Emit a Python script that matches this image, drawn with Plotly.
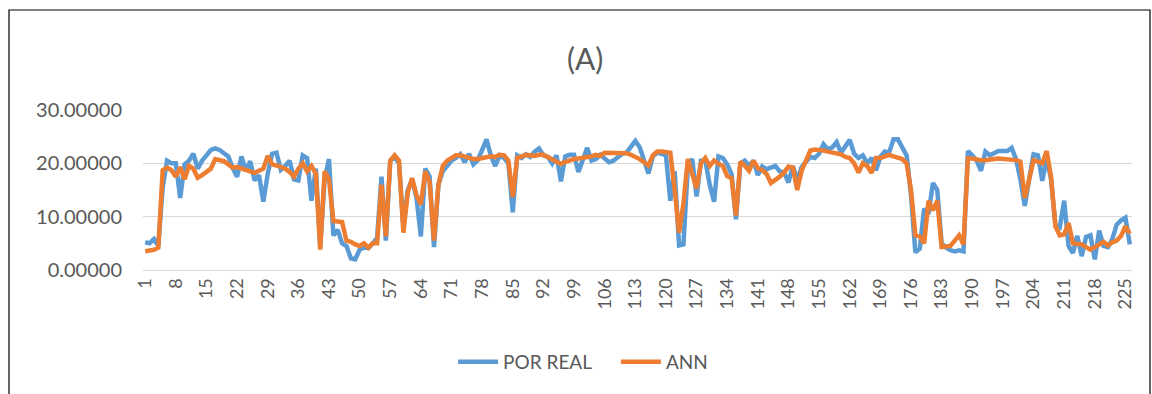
import plotly.graph_objects as go

# Observation index (category axis)
periods = list(range(1, 227))

# Measured values
por_real = [
    5.2, 5.0, 5.8, 4.5, 15.5, 20.5, 20.0, 20.0, 13.5, 19.8,
    20.5, 21.8, 19.0, 20.5, 21.5, 22.5, 22.8, 22.5, 21.9, 21.3,
    19.1, 17.5, 21.3, 18.6, 20.4, 16.8, 17.8, 12.8, 18.0, 21.8,
    22.0, 18.8, 19.5, 20.5, 17.0, 16.8, 21.5, 21.0, 13.0, 19.0,
    4.5, 17.0, 20.8, 6.5, 7.5, 5.0, 4.5, 2.2, 2.0, 3.8,
    4.2, 4.1, 5.0, 6.0, 17.5, 5.5, 20.5, 21.2, 20.0, 8.0,
    15.0, 17.0, 13.5, 6.3, 19.0, 17.5, 4.3, 16.0, 18.5, 19.5,
    20.5, 21.0, 21.7, 20.2, 21.8, 19.8, 20.6, 22.5, 24.5, 21.4,
    19.5, 21.5, 21.0, 20.0, 10.8, 21.5, 21.0, 21.7, 21.2, 22.2,
    22.8, 21.5, 21.2, 20.0, 21.5, 16.6, 21.3, 21.6, 21.6, 18.4,
    21.0, 22.9, 20.5, 20.8, 21.6, 21.0, 20.2, 20.5, 21.2, 21.8,
    22.0, 23.0, 24.2, 23.0, 20.3, 18.1, 21.3, 22.0, 21.8, 21.5,
    13.0, 18.5, 4.6, 4.8, 19.5, 20.8, 13.8, 20.5, 20.5, 16.0,
    12.8, 21.3, 21.0, 19.8, 18.0, 9.5, 20.0, 20.5, 19.6, 20.5,
    17.8, 19.4, 18.9, 19.2, 19.5, 18.5, 18.3, 16.4, 19.5, 16.8,
    19.3, 20.3, 21.2, 21.0, 21.8, 23.6, 22.6, 23.0, 24.0, 22.0,
    23.4, 24.4, 21.8, 21.0, 21.5, 20.0, 21.0, 18.7, 21.2, 22.2,
    22.0, 24.5, 24.5, 23.0, 21.5, 14.0, 3.3, 4.0, 11.5, 10.5,
    16.3, 15.0, 5.0, 4.2, 3.7, 3.5, 3.7, 3.5, 22.3, 21.5,
    20.5, 18.6, 22.2, 21.5, 22.0, 22.3, 22.3, 22.3, 22.9, 20.8,
    17.0, 12.0, 17.0, 21.7, 21.5, 16.7, 21.0, 17.0, 8.3, 8.0,
    13.0, 4.5, 3.2, 6.4, 2.6, 6.2, 6.5, 2.0, 7.4, 4.5,
    4.3, 5.8, 8.5, 9.3, 9.8, 4.8,
]

# Network predictions
ann = [
    3.5, 3.6, 3.8, 4.2, 18.7, 19.2, 18.7, 17.5, 19.3, 17.0,
    19.5, 19.0, 17.3, 17.8, 18.5, 19.0, 20.8, 20.6, 20.4, 19.8,
    19.2, 19.3, 19.0, 18.8, 18.4, 18.2, 18.6, 19.0, 21.4, 19.8,
    19.6, 19.4, 19.0, 18.4, 17.5, 19.0, 20.0, 18.5, 19.5, 18.0,
    3.8, 18.5, 17.0, 9.2, 9.0, 9.0, 5.5, 5.3, 4.8, 4.5,
    5.0, 4.2, 5.0, 5.0, 16.0, 6.3, 20.5, 21.5, 20.5, 7.0,
    14.5, 17.2, 14.0, 12.3, 18.5, 16.5, 5.5, 16.0, 19.5, 20.5,
    21.0, 21.5, 21.5, 21.2, 21.0, 20.8, 20.8, 21.0, 21.2, 21.3,
    21.2, 21.6, 21.5, 20.5, 13.7, 21.0, 21.3, 21.6, 21.5, 21.4,
    21.6, 21.6, 21.2, 20.7, 20.2, 19.9, 20.3, 20.6, 20.8, 20.9,
    21.0, 21.1, 21.3, 21.6, 21.4, 22.0, 22.0, 22.1, 22.0, 22.0,
    21.9, 21.6, 21.3, 20.8, 20.2, 19.6, 21.5, 22.2, 22.2, 22.1,
    22.0, 15.0, 7.0, 12.5, 20.8, 18.0, 15.3, 20.0, 21.0, 19.5,
    20.5, 19.9, 19.5, 17.6, 17.2, 10.2, 20.3, 19.6, 18.6, 20.5,
    19.1, 18.7, 18.0, 16.3, 16.8, 17.5, 18.3, 19.4, 19.2, 15.0,
    18.6, 20.5, 22.4, 22.6, 22.6, 22.4, 22.2, 22.0, 21.9, 21.7,
    21.2, 21.0, 20.0, 18.3, 20.0, 19.5, 18.2, 21.0, 21.0, 21.3,
    21.6, 21.3, 21.0, 20.8, 20.0, 15.0, 6.5, 6.3, 5.0, 13.0,
    11.2, 13.0, 4.3, 4.4, 4.5, 5.5, 6.5, 4.8, 20.9, 20.9,
    20.7, 20.6, 20.6, 20.8, 20.8, 20.9, 20.8, 20.9, 20.8, 20.6,
    20.3, 13.5, 17.0, 20.6, 20.3, 20.0, 22.3, 17.5, 8.2, 6.5,
    6.7, 8.8, 5.0, 4.8, 4.8, 4.3, 3.8, 4.3, 4.8, 5.3,
    4.6, 5.2, 5.5, 6.4, 8.2, 6.8,
]

# Category labels shown on the horizontal axis
tick_labels = ["1", "8", "15", "22", "29", "36", "43", "50", "57", "64", "71",
               "78", "85", "92", "99", "106", "113", "120", "127", "134", "141",
               "148", "155", "162", "169", "176", "183", "190", "197", "204",
               "211", "218", "225"]
y_ticks = [0, 10, 20, 30]
y_tick_labels = ["0.00000", "10.00000", "20.00000", "30.00000"]

FONT = "Lato, 'Open Sans', sans-serif"
TEXT = "#595959"

fig = go.Figure()
fig.add_trace(go.Scatter(
    x=periods, y=por_real, mode="lines", name="POR REAL    ",
    line=dict(color="#5B9BD5", width=4.5),
))
fig.add_trace(go.Scatter(
    x=periods, y=ann, mode="lines", name="ANN",
    line=dict(color="#ED7D31", width=4.5),
))

fig.update_layout(
    width=1152, height=394,
    margin=dict(l=143, r=20, t=110, b=124),
    paper_bgcolor="white", plot_bgcolor="white",
    font=dict(family=FONT, color=TEXT),
    title=dict(text="(A)", x=0.508, xanchor="center", y=0.848, yanchor="middle",
               font=dict(size=30, color=TEXT, family=FONT)),
    legend=dict(orientation="h", x=0.445, xanchor="center", y=-0.575, yanchor="middle",
                font=dict(size=19, color=TEXT, family=FONT), itemwidth=40),
    showlegend=True,
)
fig.update_xaxes(
    range=[0.5, 226.5], tickmode="array",
    tickvals=[int(t) for t in tick_labels], ticktext=tick_labels,
    tickangle=-90, tickfont=dict(size=18, color=TEXT, family=FONT),
    showgrid=False, showline=True, linecolor="#d9d9d9", linewidth=1,
    zeroline=False, ticks="",
)
fig.update_yaxes(
    range=[0, 30], tickmode="array", tickvals=y_ticks, ticktext=y_tick_labels,
    tickfont=dict(size=20, color=TEXT, family=FONT),
    showgrid=True, gridcolor="#d9d9d9", gridwidth=1.3,
    zeroline=False, showline=False, ticks="", ticklabelstandoff=20,
)

# Chart area frame
fig.add_shape(type="rect", xref="paper", yref="paper",
              x0=(9 - 143) / 989, x1=(1150 - 143) / 989,
              y0=(270 - 400) / 160, y1=(270 - 10) / 160,
              line=dict(color="#000000", width=1.2), fillcolor="rgba(0,0,0,0)")

fig.write_html("out.html")
